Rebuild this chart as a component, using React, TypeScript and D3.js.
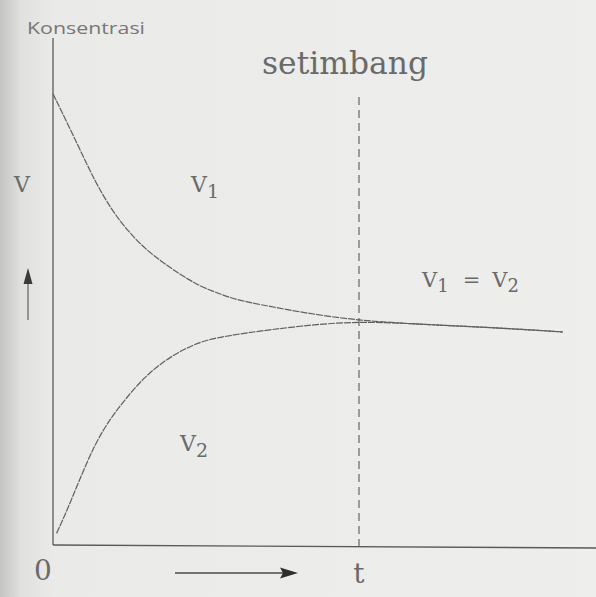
import React from "react";
import * as d3 from "d3";

// Reaction rates over time: forward rate v1 falls, reverse rate v2 rises,
// both meeting at equilibrium ("setimbang") at time t.
const timeV1 = [0, 0.5, 0.82, 1.15, 1.48, 1.8, 2.13, 2.46, 2.78, 3.11, 3.5, 3.76, 4.84, 6, 7.45, 8.76, 10];
const rateV1 = [8.9, 7.86, 7.17, 6.6, 6.17, 5.84, 5.58, 5.35, 5.15, 5.0, 4.86, 4.79, 4.58, 4.41, 4.33, 4.27, 4.19];

const timeV2 = [0.07, 0.24, 0.5, 0.82, 1.15, 1.48, 1.8, 2.13, 2.46, 2.78, 3.11, 3.76, 4.84, 6, 7.45, 8.76, 10];
const rateV2 = [0.21, 0.58, 1.22, 1.98, 2.52, 2.94, 3.3, 3.58, 3.79, 3.95, 4.06, 4.17, 4.31, 4.41, 4.33, 4.27, 4.19];

const equilibriumTime = 6;

const yAxisLabel = "Konsentrasi";
const equilibriumLabel = "setimbang";

const W = 596;
const H = 597;

export default function App() {
  const x = d3.scaleLinear().domain([0, 10]).range([53, 563]);
  const y = d3.scaleLinear().domain([0, 10]).range([544, 38]);

  const line = d3
    .line<[number, number]>()
    .x((d) => x(d[0]))
    .y((d) => y(d[1]))
    .curve(d3.curveBasis);

  const v1Path = line(timeV1.map((t, i) => [t, rateV1[i]]) as [number, number][]) || "";
  const v2Path = line(timeV2.map((t, i) => [t, rateV2[i]]) as [number, number][]) || "";

  const x0 = x(0);
  const yBase = y(0);
  const xt = x(equilibriumTime);
  const ink = "#5a5a5a";
  const curveInk = "#606060";
  const textInk = "#6a6a6a";
  const serif: React.CSSProperties = {
    fontFamily: "DejaVu Serif, serif",
  };
  const sans: React.CSSProperties = {
    fontFamily: "Open Sans, DejaVu Sans, sans-serif",
  };

  return (
    <svg
      width={W}
      height={H}
      viewBox={`0 0 ${W} ${H}`}
      style={{ position: "fixed", left: 0, top: 0, display: "block" }}
    >
      <defs>
        <linearGradient id="paper" x1="0" x2="1" y1="0" y2="0">
          <stop offset="0" stopColor="#c4c4c2" />
          <stop offset="0.035" stopColor="#e0e0de" />
          <stop offset="0.09" stopColor="#eaeae8" />
          <stop offset="1" stopColor="#eeeeec" />
        </linearGradient>
      </defs>
      <rect x={0} y={0} width={W} height={H} fill="url(#paper)" />

      {/* axes */}
      <line x1={x0} y1={38} x2={x0} y2={yBase + 1} stroke={ink} strokeWidth={1.3} />
      <line x1={x0} y1={yBase + 1} x2={W} y2={yBase + 4} stroke={ink} strokeWidth={1.3} />

      {/* equilibrium marker */}
      <line
        x1={xt}
        y1={97}
        x2={xt}
        y2={yBase + 2}
        stroke="#4a4a4a"
        strokeWidth={1}
        strokeDasharray="8 5"
      />

      {/* rate curves */}
      <path d={v1Path} fill="none" stroke={curveInk} strokeWidth={1.2} strokeDasharray="7 1" />
      <path d={v2Path} fill="none" stroke={curveInk} strokeWidth={1.2} strokeDasharray="7 1" />

      {/* labels */}
      <text
        x={27}
        y={34}
        style={sans}
        fontSize={16}
        fill="#777777"
        textLength={118}
        lengthAdjust="spacingAndGlyphs"
      >
        {yAxisLabel}
      </text>
      <text
        x={262}
        y={74}
        style={serif}
        fontSize={31}
        fill={textInk}
        textLength={166}
        lengthAdjust="spacingAndGlyphs"
      >
        {equilibriumLabel}
      </text>

      <text x={14} y={192} style={serif} fontSize={22} fill={textInk}>
        V
      </text>

      <text x={191} y={192} style={serif} fontSize={22} fill={textInk}>
        V<tspan dy={6} fontSize={19}>1</tspan>
      </text>

      <text x={422} y={287} style={serif} fontSize={21} fill={textInk}>
        V<tspan dy={5} fontSize={18}>1</tspan>
        <tspan dy={-5} dx={14}>=</tspan>
        <tspan dx={12}>V</tspan>
        <tspan dy={5} fontSize={18}>2</tspan>
      </text>

      <text x={180} y={451} style={serif} fontSize={22} fill={textInk}>
        V<tspan dy={6} fontSize={19}>2</tspan>
      </text>

      <text x={34} y={580} style={serif} fontSize={28} fill={textInk}>
        0
      </text>
      <text x={xt} y={583} style={serif} fontSize={28} fill={textInk} textAnchor="middle">
        t
      </text>

      {/* direction arrows */}
      <line x1={28} y1={320} x2={28} y2={280} stroke="#6a6a6a" strokeWidth={1.3} />
      <path d="M28,268 L32.5,284 L23.5,284 Z" fill="#3a3a3a" />
      <line x1={175} y1={573} x2={284} y2={573} stroke="#4a4a4a" strokeWidth={1.4} />
      <path d="M298,573 L280,567.5 L283,573 L280,578.5 Z" fill="#2e2e2e" />
    </svg>
  );
}
